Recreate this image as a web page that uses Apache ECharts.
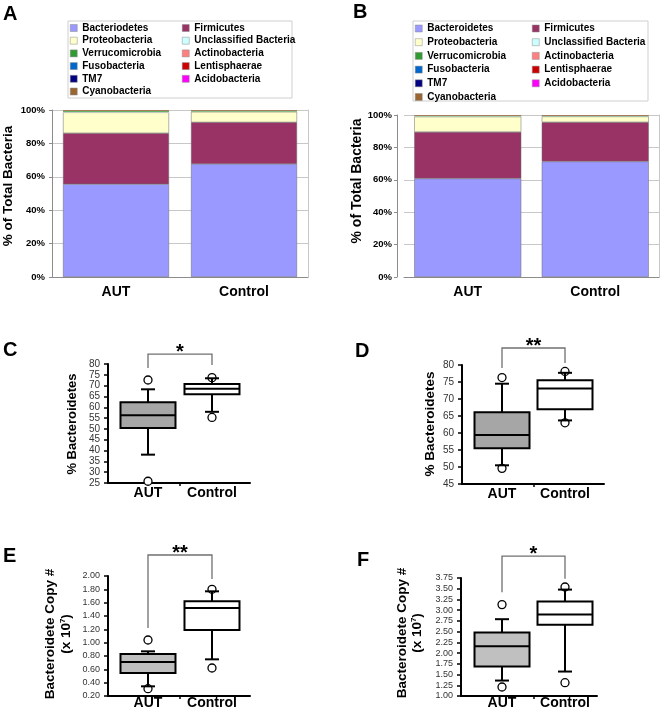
<!DOCTYPE html>
<html>
<head>
<meta charset="utf-8">
<script src="https://cdn.jsdelivr.net/npm/echarts@6/dist/echarts.min.js"></script>
<style>
  html, body { margin: 0; padding: 0; background: #fff; }
  #main { width: 662px; height: 713px; }
</style>
</head>
<body>
<div id="main"></div>
<script>
// ---- data ----
const groups = ['AUT', 'Control'];

// panel A legend spells it "Bacteriodetes", panel B "Bacteroidetes"
const phylaA = ['Bacteriodetes', 'Firmicutes', 'Proteobacteria', 'Unclassified Bacteria', 'Verrucomicrobia',
  'Actinobacteria', 'Fusobacteria', 'Lentisphaerae', 'TM7', 'Acidobacteria', 'Cyanobacteria'];
const phylaB = ['Bacteroidetes', 'Firmicutes', 'Proteobacteria', 'Unclassified Bacteria', 'Verrucomicrobia',
  'Actinobacteria', 'Fusobacteria', 'Lentisphaerae', 'TM7', 'Acidobacteria', 'Cyanobacteria'];
const phylumColors = ['#9999ff', '#993366', '#ffffcc', '#ccffff', '#339933',
  '#ff8080', '#0066cc', '#cc0000', '#000080', '#ff00ff', '#996633'];

// % of total bacteria, [AUT, Control] per phylum
const abundA = [[55.6, 67.7], [30.5, 24.9], [12.5, 6.3], [0.3, 0.2], [0.8, 0.6],
  [0.15, 0.15], [0.05, 0.05], [0.03, 0.03], [0.02, 0.02], [0.02, 0.02], [0.03, 0.03]];
const abundB = [[60.8, 71.3], [28.7, 24.2], [9.5, 3.6], [0.2, 0.2], [0.5, 0.4],
  [0.15, 0.15], [0.05, 0.05], [0.03, 0.03], [0.02, 0.02], [0.02, 0.02], [0.03, 0.03]];
const barTicks = [0, 100, 20];

// box plots: [lower whisker, Q1, median, Q3, upper whisker] for AUT, Control
const boxC = [[38.1, 50.4, 56.3, 62.3, 68.3], [57.9, 66.0, 68.6, 70.8, 73.4]];
const boxD = [[50.5, 55.5, 59.4, 66.1, 74.5], [63.7, 67.0, 73.1, 75.5, 77.7]];
const boxE = [[0.345, 0.545, 0.71, 0.83, 0.87], [0.75, 1.19, 1.52, 1.62, 1.77]];
const boxF = [[1.36, 1.69, 2.16, 2.48, 2.79], [1.57, 2.66, 2.90, 3.20, 3.48]];

// outliers: [group index, value]
const outC = [[0, 72.6], [0, 25.8], [1, 73.7], [1, 55.3]];
const outD = [[0, 76.3], [0, 49.6], [1, 78.1], [1, 63.0]];
const outE = [[0, 1.04], [0, 0.31], [1, 1.80], [1, 0.62]];
const outF = [[0, 3.13], [0, 1.21], [1, 3.54], [1, 1.31]];

// y axis [min, max, step]
const ticksC = [25, 80, 5];
const ticksD = [45, 80, 5];
const ticksE = [0.2, 2.0, 0.2];
const ticksF = [1.0, 3.75, 0.25];

// significance brackets: [x left, x right, top, left leg end, right leg end]
const bracketC = [0, 1, 84.6, 78.2, 79.5];
const bracketD = [0, 1, 85.0, 79.1, 80.6];
const bracketE = [0, 1, 2.315, 1.22, 1.955];
const bracketF = [0, 1, 4.26, 3.42, 3.73];
const starsC = '*', starsD = '**', starsE = '**', starsF = '*';

// ---- chart ----
const FONT = '"Liberation Sans", Arial, Helvetica, sans-serif';
const BOX_W = 55, CAP_W = 14;

const chart = echarts.init(document.getElementById('main'));

function barSeries(names, values, xi, yi, stackId, width) {
  return names.map((name, i) => ({
    name: name,
    type: 'bar',
    stack: stackId,
    xAxisIndex: xi,
    yAxisIndex: yi,
    barWidth: width,
    data: values[i],
    silent: true,
    // only the visible bands get an outline, the slivers on top would just pile up grey
    itemStyle: { color: phylumColors[i], borderColor: '#6a6a6a', borderWidth: i < 3 ? 0.5 : 0 },
  }));
}

function renderBox(params, api) {
  const x = api.value(0);
  const lo = api.coord([x, api.value(1)]);
  const q1 = api.coord([x, api.value(2)]);
  const med = api.coord([x, api.value(3)]);
  const q3 = api.coord([x, api.value(4)]);
  const hi = api.coord([x, api.value(5)]);
  const cx = lo[0];
  const stroke = { stroke: '#000', lineWidth: 2 };
  return {
    type: 'group',
    children: [
      { type: 'line', shape: { x1: cx, y1: hi[1], x2: cx, y2: q3[1] }, style: stroke },
      { type: 'line', shape: { x1: cx, y1: q1[1], x2: cx, y2: lo[1] }, style: stroke },
      { type: 'line', shape: { x1: cx - CAP_W / 2, y1: hi[1], x2: cx + CAP_W / 2, y2: hi[1] }, style: stroke },
      { type: 'line', shape: { x1: cx - CAP_W / 2, y1: lo[1], x2: cx + CAP_W / 2, y2: lo[1] }, style: stroke },
      {
        type: 'rect',
        shape: { x: cx - BOX_W / 2, y: q3[1], width: BOX_W, height: q1[1] - q3[1] },
        style: { fill: api.visual('color'), stroke: '#000', lineWidth: 2 },
      },
      { type: 'line', shape: { x1: cx - BOX_W / 2, y1: med[1], x2: cx + BOX_W / 2, y2: med[1] }, style: stroke },
    ],
  };
}

function boxSeries(xi, yi, boxes, fills) {
  return {
    type: 'custom',
    xAxisIndex: xi,
    yAxisIndex: yi,
    clip: false,
    silent: true,
    z: 3,
    renderItem: renderBox,
    data: boxes.map((b, i) => ({ value: [i].concat(b), itemStyle: { color: fills[i] } })),
  };
}

function outlierSeries(xi, yi, pts) {
  return {
    type: 'scatter',
    xAxisIndex: xi,
    yAxisIndex: yi,
    symbol: 'circle',
    symbolSize: 8,
    silent: true,
    z: 2,
    itemStyle: { color: '#fff', borderColor: '#000', borderWidth: 1.3, opacity: 1 },
    data: pts,
  };
}

function bracketSeries(xi, yi, br, stars) {
  return {
    type: 'custom',
    xAxisIndex: xi,
    yAxisIndex: yi,
    clip: false,
    silent: true,
    z: 4,
    renderItem: function (params, api) {
      const a = api.coord([api.value(0), api.value(2)]);
      const b = api.coord([api.value(1), api.value(2)]);
      const a2 = api.coord([api.value(0), api.value(3)]);
      const b2 = api.coord([api.value(1), api.value(4)]);
      return {
        type: 'group',
        children: [
          {
            type: 'polyline',
            shape: { points: [a2, a, b, b2] },
            style: { stroke: '#707070', lineWidth: 1.3, fill: null },
          },
          {
            type: 'text',
            x: (a[0] + b[0]) / 2,
            y: a[1] - 2,
            style: {
              text: stars, fontFamily: FONT, fontWeight: 'bold', fontSize: 20, fill: '#000',
              align: 'center', verticalAlign: 'middle',
            },
          },
        ],
      };
    },
    data: [br],
  };
}

function boxXAxis(gi, min, max, margin) {
  return {
    gridIndex: gi,
    type: 'value',
    min: min,
    max: max,
    splitLine: { show: false },
    axisLine: { show: true, onZero: false, lineStyle: { color: '#000', width: 2 } },
    axisTick: { show: true, customValues: [0.5], length: 3, lineStyle: { color: '#000', width: 1.5 } },
    axisLabel: {
      customValues: [0, 1],
      formatter: (v) => groups[Math.round(v)],
      fontFamily: FONT, fontWeight: 'bold', fontSize: 14, color: '#000', margin: margin,
    },
  };
}

function boxYAxis(gi, ticks, digits, size) {
  return {
    gridIndex: gi,
    type: 'value',
    min: ticks[0],
    max: ticks[1],
    interval: ticks[2],
    splitLine: { show: false },
    axisLine: { show: true, onZero: false, lineStyle: { color: '#000', width: 2 } },
    axisTick: { show: true, length: 4, lineStyle: { color: '#000', width: 1.5 } },
    axisLabel: {
      formatter: (v) => v.toFixed(digits),
      fontFamily: FONT, fontSize: size, color: '#333', margin: 8,
    },
  };
}

function barYAxis(gi, offset, margin) {
  return {
    gridIndex: gi,
    type: 'value',
    min: barTicks[0],
    max: barTicks[1],
    interval: barTicks[2],
    offset: offset,
    axisLine: { show: true, lineStyle: { color: '#8c8c8c', width: 1 } },
    axisTick: { show: true, length: 3, lineStyle: { color: '#8c8c8c' } },
    splitLine: { show: true, lineStyle: { color: '#c8c8c8', width: 1 } },
    axisLabel: { formatter: '{value}%', fontFamily: FONT, fontWeight: 'bold', fontSize: 9.5, color: '#000', margin: margin },
  };
}

function borderYAxis(gi) {
  return {
    gridIndex: gi,
    type: 'value',
    position: 'right',
    min: barTicks[0],
    max: barTicks[1],
    axisLine: { show: true, lineStyle: { color: '#c8c8c8', width: 1 } },
    axisTick: { show: false },
    axisLabel: { show: false },
    splitLine: { show: false },
  };
}

function barXAxis(gi) {
  return {
    gridIndex: gi,
    type: 'category',
    data: groups,
    axisLine: { show: true, lineStyle: { color: '#8c8c8c' } },
    axisTick: { show: false },
    axisLabel: { fontFamily: FONT, fontWeight: 'bold', fontSize: 14, color: '#000', margin: 8 },
  };
}

function legendCol(names, left, top, gap) {
  return {
    data: names,
    orient: 'vertical',
    left: left,
    top: top,
    padding: 0,
    itemGap: gap,
    itemWidth: 7,
    itemHeight: 7,
    icon: 'rect',
    selectedMode: false,
    itemStyle: { borderColor: '#8a8a8a', borderWidth: 0.5 },
    textStyle: { fontFamily: FONT, fontWeight: 'bold', fontSize: 10, color: '#000', lineHeight: 12 },
  };
}

function pick(arr, idx) {
  return idx.map((i) => arr[i]);
}

function letter(t, x, y) {
  return {
    type: 'text', x: x, y: y,
    style: { text: t, fontFamily: FONT, fontWeight: 'bold', fontSize: 20, fill: '#000', align: 'left', verticalAlign: 'middle' },
  };
}

function yTitle(t, x, y, size) {
  return {
    type: 'text', x: x, y: y, rotation: Math.PI / 2,
    style: { text: t, fontFamily: FONT, fontWeight: 'bold', fontSize: size, fill: '#000', align: 'center', verticalAlign: 'middle' },
  };
}

function copyTitle(x, y) {
  return {
    type: 'text', x: x, y: y, rotation: Math.PI / 2,
    style: {
      text: '(x 10{sup|7})',
      fontFamily: FONT, fontWeight: 'bold', fontSize: 13.5, fill: '#000', align: 'center', verticalAlign: 'middle',
      rich: { sup: { fontFamily: FONT, fontWeight: 'bold', fontSize: 8, fill: '#000', verticalAlign: 'top' } },
    },
  };
}

function legendBox(x, y, w, h) {
  return { type: 'rect', shape: { x: x, y: y, width: w, height: h }, style: { fill: 'none', stroke: '#cfcfcf', lineWidth: 1 }, z: -1 };
}

const col1 = [0, 2, 4, 6, 8, 10];
const col2 = [1, 3, 5, 7, 9];

const option = {
  animation: false,
  backgroundColor: '#fff',
  grid: [
    { left: 52, top: 110, width: 256, height: 167 },
    { left: 404, top: 115, width: 255, height: 162 },
    { left: 108, top: 364, width: 142, height: 119 },
    { left: 462, top: 365, width: 142, height: 119 },
    { left: 108, top: 576, width: 142, height: 120 },
    { left: 461, top: 578, width: 136, height: 118 },
  ],
  xAxis: [
    barXAxis(0),
    barXAxis(1),
    boxXAxis(2, -0.625, 1.594, 3),
    boxXAxis(3, -0.635, 1.619, 3),
    boxXAxis(4, -0.625, 1.594, 0),
    boxXAxis(5, -0.651, 1.508, 0),
  ],
  yAxis: [
    barYAxis(0, 0, 7),
    borderYAxis(0),
    barYAxis(1, 7, 5),
    borderYAxis(1),
    boxYAxis(2, ticksC, 0, 10),
    boxYAxis(3, ticksD, 0, 10),
    boxYAxis(4, ticksE, 2, 9),
    boxYAxis(5, ticksF, 2, 9),
  ],
  legend: [
    legendCol(pick(phylaA, col1), 70, 22, 0.7),
    legendCol(pick(phylaA, col2), 182, 22, 0.7),
    legendCol(pick(phylaB, col1), 415, 22.5, 1.7),
    legendCol(pick(phylaB, col2), 532, 22.5, 1.7),
  ],
  graphic: [
    legendBox(68, 21, 224, 77),
    legendBox(413, 21, 235, 80),
    letter('A', 3, 14),
    letter('B', 353, 12),
    letter('C', 3, 350),
    letter('D', 355, 351),
    letter('E', 3, 556),
    letter('F', 357, 560),
    yTitle('% of Total Bacteria', 8, 186, 13.5),
    yTitle('% of Total Bacteria', 357, 181, 14),
    yTitle('% Bacteroidetes', 72, 424, 13),
    yTitle('% Bacteroidetes', 430, 424, 13.5),
    yTitle('Bacteroidete Copy #', 50, 634, 13.5),
    copyTitle(66, 634),
    yTitle('Bacteroidete Copy #', 402, 633, 13.5),
    copyTitle(417, 633),
  ],
  series: [].concat(
    barSeries(phylaA, abundA, 0, 0, 'A', 106),
    barSeries(phylaB, abundB, 1, 2, 'B', 107),
    [
      outlierSeries(2, 4, outC),
      boxSeries(2, 4, boxC, ['#a6a6a6', '#fff']),
      bracketSeries(2, 4, bracketC, starsC),
      outlierSeries(3, 5, outD),
      boxSeries(3, 5, boxD, ['#a6a6a6', '#fff']),
      bracketSeries(3, 5, bracketD, starsD),
      outlierSeries(4, 6, outE),
      boxSeries(4, 6, boxE, ['#bfbfbf', '#fff']),
      bracketSeries(4, 6, bracketE, starsE),
      outlierSeries(5, 7, outF),
      boxSeries(5, 7, boxF, ['#c0c0c0', '#fff']),
      bracketSeries(5, 7, bracketF, starsF),
    ]
  ),
};

chart.setOption(option);
</script>
</body>
</html>
